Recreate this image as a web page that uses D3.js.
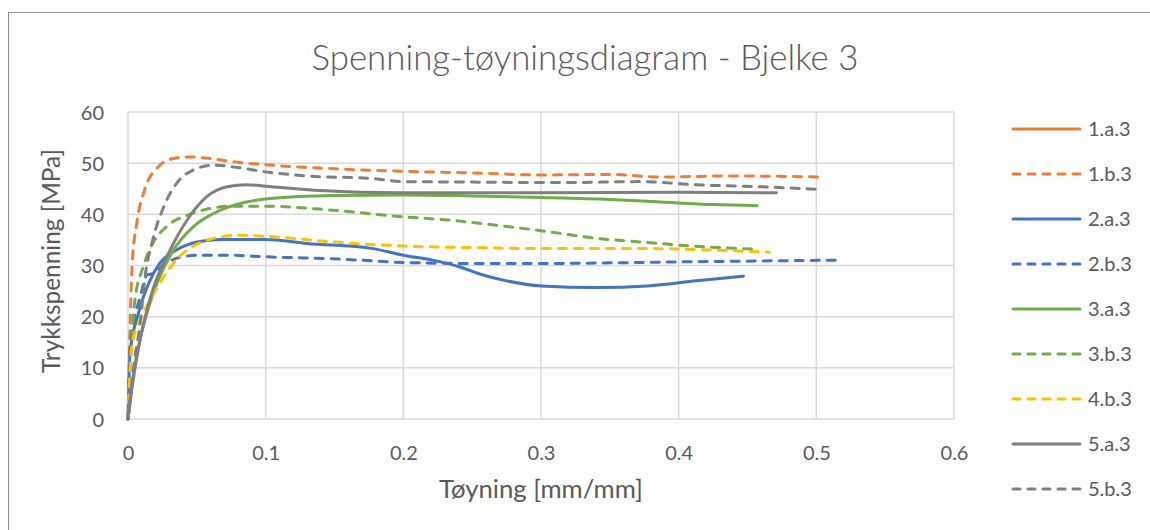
<!DOCTYPE html>
<html>
<head>
<meta charset="utf-8">
<script src="https://cdn.jsdelivr.net/npm/d3@7"></script>
<style>
  html, body { margin: 0; padding: 0; background: #fff; }
  svg { display: block; }
  text { font-family: Lato, "Open Sans", sans-serif; fill: #595959; }
</style>
</head>
<body>
<svg id="chart" width="1150" height="530"></svg>
<script>
// Stress-strain curves for beam 3: [strain (mm/mm), compressive stress (MPa)]
const s1a3 = [];
const s1b3 = [[0,0],[0.0015,18],[0.003,30],[0.0065,38.5],[0.012,44.7],[0.022,49.3],[0.033,50.9],[0.045,51.2],[0.06,50.9],[0.076,50.3],[0.1,49.7],[0.15,48.9],[0.2,48.4],[0.25,48.1],[0.3,47.7],[0.35,47.8],[0.387,47.3],[0.435,47.5],[0.503,47.3]];
const s2a3 = [[0,0],[0.0015,12.9],[0.0075,20.6],[0.015,26.5],[0.023,30.4],[0.035,33],[0.05,34.6],[0.067,35.1],[0.1,35.1],[0.13,34.3],[0.178,33.3],[0.2,32.0],[0.222,31.0],[0.24,29.8],[0.256,28.3],[0.275,27.0],[0.3,26.0],[0.341,25.7],[0.377,26.0],[0.413,27.0],[0.447,27.9]];
const s2b3 = [[0,0],[0.002,15],[0.009,24],[0.014,28.2],[0.018,28.4],[0.026,30.1],[0.035,31.4],[0.05,32],[0.074,32],[0.1,31.7],[0.154,31.25],[0.2,30.6],[0.25,30.4],[0.3,30.4],[0.4,30.7],[0.515,31.05]];
const s3a3 = [[0,0],[0.004,9],[0.011,18],[0.021,26.5],[0.033,33],[0.0475,37.6],[0.067,40.8],[0.086,42.4],[0.103,43.1],[0.149,43.7],[0.2,43.8],[0.25,43.6],[0.3,43.3],[0.35,42.9],[0.387,42.4],[0.425,41.9],[0.457,41.7]];
const s3b3 = [[0,0],[0.0015,9],[0.005,23.2],[0.011,29.7],[0.018,34.3],[0.028,37.6],[0.043,39.8],[0.057,41],[0.076,41.6],[0.1,41.6],[0.149,40.8],[0.2,39.5],[0.232,38.9],[0.27,37.8],[0.3,36.8],[0.341,35.3],[0.377,34.5],[0.41,33.8],[0.456,33.2]];
const s4b3 = [[0,0],[0.0027,14.1],[0.0087,19.3],[0.016,23.2],[0.026,27.8],[0.035,31.1],[0.047,33.7],[0.062,35.3],[0.079,35.9],[0.1,35.7],[0.149,34.6],[0.2,33.8],[0.25,33.5],[0.3,33.3],[0.38,33.3],[0.425,33.0],[0.466,32.6]];
const s5a3 = [[0,0],[0.0027,5.7],[0.0087,15.4],[0.018,25.2],[0.0305,33],[0.043,38.9],[0.057,43.4],[0.072,45.4],[0.086,45.8],[0.1,45.5],[0.135,44.7],[0.2,44.2],[0.3,44.2],[0.4,44.3],[0.471,44.2]];
const s5b3 = [[0,0],[0.005,12],[0.009,19],[0.012,27],[0.018,35],[0.026,41.5],[0.036,46.3],[0.047,48.6],[0.062,49.6],[0.081,49.1],[0.1,48.3],[0.13,47.5],[0.178,47.0],[0.2,46.4],[0.25,46.3],[0.314,46.2],[0.374,46.4],[0.41,45.8],[0.459,45.4],[0.5,44.9]];

const seriesNames = ["1.a.3","1.b.3","2.a.3","2.b.3","3.a.3","3.b.3","4.b.3","5.a.3","5.b.3"];
const seriesData = [s1a3, s1b3, s2a3, s2b3, s3a3, s3b3, s4b3, s5a3, s5b3];
const seriesColors = ["#ED7D31","#ED7D31","#4472C4","#4472C4","#70AD47","#70AD47","#FFC000","#7F7F7F","#7F7F7F"];
const seriesDashed = [false,true,false,true,false,true,true,false,true];

const xTicks = [0,0.1,0.2,0.3,0.4,0.5,0.6];
const yTicks = [0,10,20,30,40,50,60];

const titleText = "Spenning-tøyningsdiagram - Bjelke 3";
const xTitle = "Tøyning [mm/mm]";
const yTitle = "Trykkspenning [MPa]";

const svg = d3.select("#chart");

// chart frame (only top/left edges fall inside the canvas)
svg.append("rect").attr("x", 8.5).attr("y", 12.5).attr("width", 1300).attr("height", 700)
  .attr("fill", "#fff").attr("stroke", "#8c8c8c").attr("stroke-width", 1);

const x = d3.scaleLinear().domain([0, 0.6]).range([128, 954]);
const y = d3.scaleLinear().domain([0, 60]).range([419, 112]);

// gridlines
const grid = svg.append("g");
grid.selectAll("line.h").data(yTicks).join("line")
  .attr("x1", x(0)).attr("x2", x(0.6))
  .attr("y1", d => y(d)).attr("y2", d => y(d))
  .attr("stroke", "#d9d9d9").attr("stroke-width", 1.5);
grid.selectAll("line.v").data(xTicks).join("line")
  .attr("y1", y(0)).attr("y2", y(60))
  .attr("x1", d => x(d)).attr("x2", d => x(d))
  .attr("stroke", "#d9d9d9").attr("stroke-width", 1.5);

// axes (labels only, lines are the gridlines)
const xAxis = svg.append("g").attr("transform", `translate(0,${y(0)})`)
  .call(d3.axisBottom(x).tickValues(xTicks).tickSize(0).tickPadding(0).tickFormat(d => d3.format("")(+d.toFixed(1))));
xAxis.select(".domain").remove();
xAxis.selectAll("text").attr("dy", null).attr("y", 41).attr("font-size", 20)
  .style("font-family", "Lato, sans-serif").attr("fill", "#595959");

const yAxis = svg.append("g").attr("transform", `translate(${x(0)},0)`)
  .call(d3.axisLeft(y).tickValues(yTicks).tickSize(0).tickPadding(0));
yAxis.select(".domain").remove();
yAxis.selectAll("text").attr("dy", null).attr("x", -24).attr("y", 7).attr("font-size", 20)
  .style("font-family", "Lato, sans-serif").attr("fill", "#595959");

// curves
const line = d3.line().x(d => x(d[0])).y(d => y(d[1])).curve(d3.curveMonotoneX);
const plot = svg.append("g");
seriesData.forEach((data, i) => {
  if (!data.length) return;
  plot.append("path").attr("d", line(data))
    .attr("fill", "none")
    .attr("stroke", seriesColors[i])
    .attr("stroke-width", 3)
    .attr("stroke-linecap", "round")
    .attr("stroke-linejoin", "round")
    .attr("stroke-dasharray", seriesDashed[i] ? "8,8" : null);
});

// fit a text element to a given width by scaling its font size
function fitWidth(sel, target) {
  const w = sel.node().getComputedTextLength();
  const fs = parseFloat(sel.attr("font-size"));
  sel.attr("font-size", fs * target / w);
}

// title
const t = svg.append("text").attr("x", 585).attr("y", 70).attr("text-anchor", "middle")
  .attr("font-size", 34).attr("font-weight", 300).text(titleText);
fitWidth(t, 547);

// axis titles
const xt = svg.append("text").attr("x", 541).attr("y", 498).attr("text-anchor", "middle")
  .attr("font-size", 22).text(xTitle);
fitWidth(xt, 204);
const yt = svg.append("text").attr("transform", "translate(60,261) rotate(-90)")
  .attr("text-anchor", "middle").attr("font-size", 22).text(yTitle);
fitWidth(yt, 224);

// legend
const legend = svg.append("g");
seriesNames.forEach((name, i) => {
  const cy = 129 + i * 45;
  legend.append("line").attr("x1", 1013).attr("x2", 1080).attr("y1", cy).attr("y2", cy)
    .attr("stroke", seriesColors[i]).attr("stroke-width", 3).attr("stroke-linecap", "round")
    .attr("stroke-dasharray", seriesDashed[i] ? "7,8" : null);
  legend.append("text").attr("x", 1088).attr("y", cy + 7).attr("font-size", 20).text(name);
});
</script>
</body>
</html>
